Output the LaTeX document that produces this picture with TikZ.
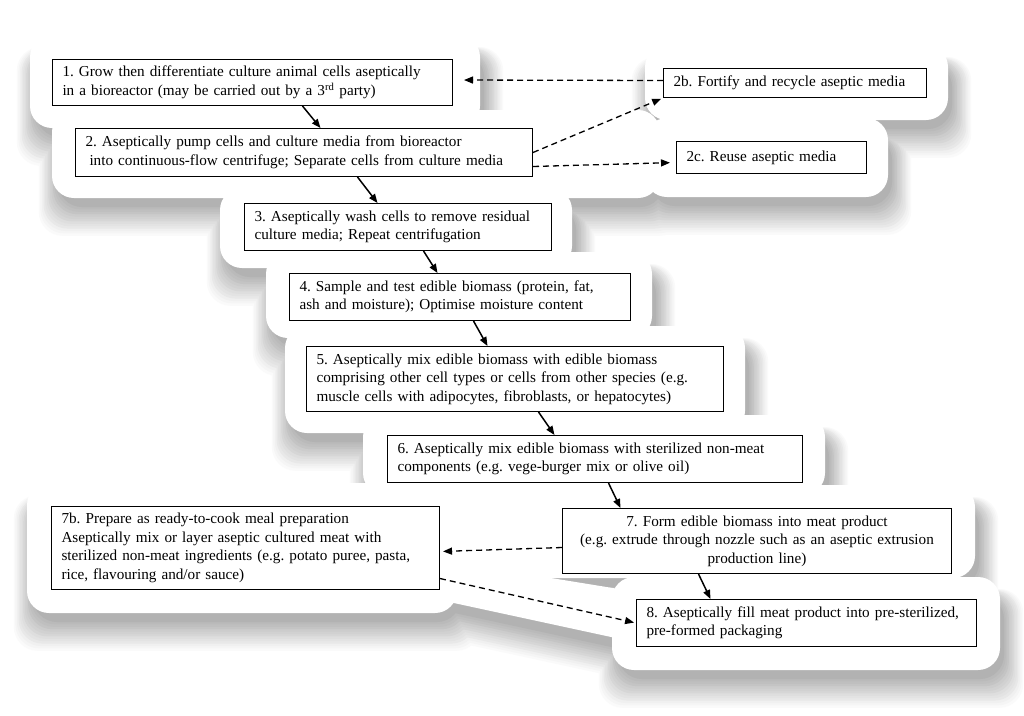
\documentclass[tikz,border=0pt]{standalone}
\usepackage{fontspec}
\setmainfont{Liberation Serif}
\usetikzlibrary{arrows.meta,positioning}
\frenchspacing

% vellen papier achter de stappen: links/boven/rechts/onder
\newcommand{\vellen}{30/35/480/128, 52/110/660/198, 645/45/948/120, 645/118/888/197,
	220/188/572/268, 266/252/652/338, 285/326/745/433, 363/415/825/495,
	450/485/975/578, 27/483/457/613, 612/577/1000/670}

\begin{document}
\begin{tikzpicture}[
			x=1pt, y=-1pt,
			font=\fontsize{15.2}{18.5}\selectfont,
			>={Triangle[length=9pt, width=7pt]},
			stap/.style={draw, line width=1pt, fill=white, anchor=north west, inner xsep=10pt, inner ysep=3pt, align=left},
			pijl/.style={->, line width=1.5pt},
			stippel/.style={->, line width=1.3pt, dash pattern=on 6pt off 4pt},
			schaduw/.style={fill=black!#1, rounded corners=24pt},
			papier/.style={fill=white, rounded corners=22pt}
		]

		\useasboundingbox (0,0) rectangle (1024,715);
		\fill[white] (0,0) rectangle (1024,715);

		% schaduw, van licht naar donker
		\foreach \i in {12,...,0}{
			\pgfmathtruncatemacro\tint{30-\i*2.3}
			\foreach \xa/\ya/\xb/\yb in \vellen
				\fill[schaduw=\tint] (\xa+6-\i*1.6, \ya+18-\i*0.5) rectangle (\xb+4+\i*1.6, \yb+9+\i*2.4);
			\fill[black!\tint] (450,585) -- (625,615) -- (625,650+\i*2.4) -- (450,612+\i*2.4) -- cycle;
		}
		% papier
		\foreach \xa/\ya/\xb/\yb in \vellen
			\fill[papier] (\xa,\ya) rectangle (\xb,\yb);
		\fill[white] (440,560) -- (625,590) -- (625,640) -- (440,600) -- cycle;

		% stappen
		\node[stap, text width=380pt, minimum height=46pt] (s1) at (52,59)
			{1. Grow then differentiate culture animal cells aseptically\\in a bioreactor (may be carried out by a 3\textsuperscript{rd} party)};
		\node[stap, text width=437pt, minimum height=48pt] (s2) at (75,128)
			{2. Aseptically pump cells and culture media from bioreactor\\\hspace*{4pt}into continuous-flow centrifuge; Separate cells from culture media};
		\node[stap, text width=243pt, minimum height=29pt] (s2b) at (663,68) {2b. Fortify and recycle aseptic media};
		\node[stap, text width=170pt, minimum height=32pt] (s2c) at (676,141) {2c. Reuse aseptic media};
		\node[stap, text width=287pt, minimum height=47pt] (s3) at (244,203)
			{3. Aseptically wash cells to remove residual\\culture media; Repeat centrifugation};
		\node[stap, text width=321pt, minimum height=47pt] (s4) at (289,273)
			{4. Sample and test edible biomass (protein, fat,\\ash and moisture); Optimise moisture content};
		\node[stap, text width=397pt, minimum height=65pt] (s5) at (306,346)
			{5. Aseptically mix edible biomass with edible biomass\\comprising other cell types or cells from other species (e.g.\\muscle cells with adipocytes, fibroblasts, or hepatocytes)};
		\node[stap, text width=395pt, minimum height=47pt] (s6) at (387,435)
			{6. Aseptically mix edible biomass with sterilized non-meat\\components (e.g. vege-burger mix or olive oil)};
		\node[stap, text width=369pt, minimum height=65pt, align=center] (s7) at (562,508)
			{7. Form edible biomass into meat product\\(e.g. extrude through nozzle such as an aseptic extrusion\\production line)};
		\node[stap, text width=368pt, minimum height=83pt] (s7b) at (51,506)
			{7b. Prepare as ready-to-cook meal preparation\\Aseptically mix or layer aseptic cultured meat with\\sterilized non-meat ingredients (e.g. potato puree, pasta,\\rice, flavouring and/or sauce)};
		\node[stap, text width=320pt, minimum height=47pt] (s8) at (636,599)
			{8. Aseptically fill meat product into pre-sterilized,\\pre-formed packaging};

		% hoofdlijn
		\draw[pijl] ([xshift=50pt]s1.south) -- ([xshift=16.5pt]s2.north);
		\draw[pijl] ([xshift=53.5pt]s2.south) -- ([xshift=-20.5pt]s3.north);
		\draw[pijl] ([xshift=25.5pt]s3.south) -- ([xshift=-22.5pt]s4.north);
		\draw[pijl] ([xshift=13.5pt]s4.south) -- ([xshift=-27.5pt]s5.north);
		\draw[pijl] ([xshift=23.5pt]s5.south) -- ([xshift=-40.5pt]s6.north);
		\draw[pijl] ([xshift=13.5pt]s6.south) -- ([xshift=-136.5pt]s7.north);
		\draw[pijl] ([xshift=-58.5pt]s7.south) -- ([xshift=-96pt]s8.north);

		% media en zijtakken
		\draw[stippel, shorten >=11pt] ([yshift=2.5pt]s2b.west) -- ([yshift=2.5pt]s1.east);
		\draw[stippel, shorten >=2pt] (s2.east) -- (s2b.south west);
		\draw[stippel, shorten >=6pt] ([yshift=-14pt]s2.east) -- ([yshift=-5pt]s2c.west);
		\draw[stippel, shorten >=3pt] ([yshift=-6.5pt]s7.west) -- ([yshift=-3.5pt]s7b.east);
		\draw[stippel, shorten >=2pt] ([yshift=-30.5pt]s7b.east) -- (s8.west);
	\end{tikzpicture}
\end{document}
